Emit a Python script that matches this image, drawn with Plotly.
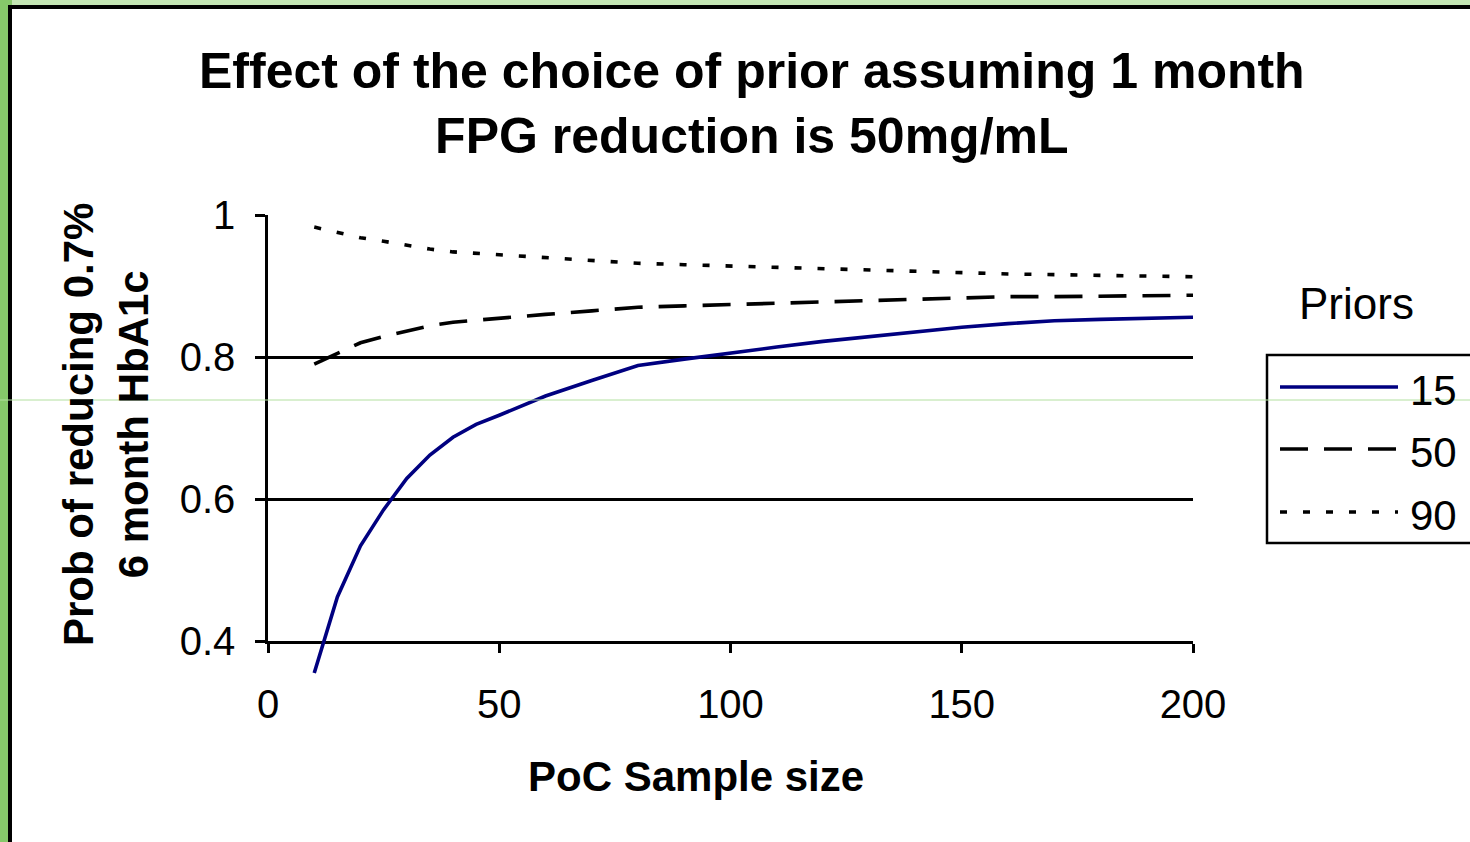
import plotly.graph_objects as go

# ---------------- data ----------------
sample_size = [10, 15, 20, 25, 30, 35, 40, 45, 50, 60, 70, 80, 90, 100,
               110, 120, 130, 140, 150, 160, 170, 180, 190, 200]
prior_15 = [0.355, 0.462, 0.534, 0.585, 0.629, 0.662, 0.687, 0.705, 0.718, 0.745,
            0.767, 0.788, 0.797, 0.806, 0.814, 0.822, 0.829, 0.835, 0.842, 0.847,
            0.851, 0.853, 0.854, 0.856]
prior_50 = [0.790, 0.805, 0.820, 0.829, 0.836, 0.844, 0.849, 0.852, 0.855, 0.860,
            0.865, 0.870, 0.872, 0.874, 0.876, 0.878, 0.880, 0.882, 0.884, 0.885,
            0.885, 0.886, 0.887, 0.887]
prior_90 = [0.983, 0.975, 0.968, 0.963, 0.957, 0.952, 0.948, 0.946, 0.944, 0.939,
            0.935, 0.932, 0.930, 0.928, 0.926, 0.924, 0.923, 0.921, 0.919, 0.917,
            0.916, 0.915, 0.914, 0.913]
series_names = ["15", "50", "90"]
x_ticks = [0, 50, 100, 150, 200]
y_ticks = [0.4, 0.6, 0.8, 1]

title_text = "Effect of the choice of prior assuming 1 month<br>FPG reduction is 50mg/mL"
x_title = "PoC Sample size"
y_title = "Prob of reducing 0.7%<br>6 month HbA1c"
legend_title = "Priors"

# ---------------- styles ----------------
FONT = "Arial, 'Liberation Sans', sans-serif"
colors = ["#000080", "black", "black"]
dashes = ["solid", "28px,16px", "7px,16px"]
widths = [3.6, 3.6, 3.6]

W_PX, H_PX = 1470, 842
L, R, T, B = 268, 1193, 215, 700   # paper box in pixels
PLOT_BOTTOM = 641                  # pixel of y = 0.4
PW, PH = R - L, B - T


def px(x):
    return (x - L) / PW


def py(y):
    return (B - y) / PH


y_lo, y_hi = 0.4, 1.0
y2_lo = y_hi - (y_hi - y_lo) * PH / (PLOT_BOTTOM - T)

fig = go.Figure()
# empty trace so that the main x/y subplot (axes + grid) exists
fig.add_trace(go.Scatter(x=[None], y=[None], xaxis="x", yaxis="y", mode="lines",
                         showlegend=False, hoverinfo="skip"))
for name, ys, c, d, w in zip(series_names, [prior_15, prior_50, prior_90], colors, dashes, widths):
    fig.add_trace(go.Scatter(x=sample_size, y=ys, name=name, mode="lines",
                             line=dict(color=c, dash=d, width=w),
                             xaxis="x2", yaxis="y2", showlegend=False))

shapes = [
    # white slide panel with black border
    dict(type="rect", xref="paper", yref="paper", x0=px(10), x1=px(1490),
         y0=py(7), y1=py(860), fillcolor="white", line=dict(color="black", width=4),
         layer="below"),
    # top lighter strip
    dict(type="rect", xref="paper", yref="paper", x0=px(12), x1=px(1480),
         y0=py(-5), y1=py(5), fillcolor="#c4e6b4", line=dict(width=0), layer="below"),
    # legend box
    dict(type="rect", xref="paper", yref="paper", x0=px(1267), x1=px(1490),
         y0=py(355), y1=py(543), fillcolor="rgba(0,0,0,0)",
         line=dict(color="black", width=2.5), layer="above"),
    # thin green artefact line
    dict(type="line", xref="paper", yref="paper", x0=px(0), x1=px(1470),
         y0=py(400), y1=py(400), line=dict(color="#b3e0a0", width=1), layer="above"),
]

annotations = [
    dict(text="<b>" + title_text + "</b>", xref="paper", yref="paper", x=px(752), y=py(41),
         xanchor="center", yanchor="top", showarrow=False,
         font=dict(family=FONT, size=50, color="black")),
    dict(text="<b>" + x_title + "</b>", xref="paper", yref="paper", x=px(696), y=py(777),
         xanchor="center", yanchor="middle", showarrow=False,
         font=dict(family=FONT, size=42, color="black")),
    dict(text="<b>" + y_title + "</b>", xref="paper", yref="paper", x=px(106), y=py(425),
         xanchor="center", yanchor="middle", showarrow=False, textangle=-90,
         font=dict(family=FONT, size=42, color="black")),
    dict(text=legend_title, xref="paper", yref="paper", x=px(1356), y=py(303),
         xanchor="center", yanchor="middle", showarrow=False,
         font=dict(family=FONT, size=44, color="black")),
]

legend_rows = [390, 452, 515]
for name, c, d, w, row in zip(series_names, colors, dashes, widths, legend_rows):
    shapes.append(dict(type="line", xref="paper", yref="paper", x0=px(1280), x1=px(1398),
                       y0=py(row - 3), y1=py(row - 3), line=dict(color=c, dash=d, width=w),
                       layer="above"))
    annotations.append(dict(text=name, xref="paper", yref="paper", x=px(1408), y=py(row),
                            xanchor="left", yanchor="middle", showarrow=False,
                            font=dict(family=FONT, size=42, color="black")))

fig.update_layout(
    width=W_PX, height=H_PX,
    margin=dict(l=L, r=W_PX - R, t=T, b=H_PX - B, pad=0),
    paper_bgcolor="#86c86a",
    plot_bgcolor="rgba(0,0,0,0)",
    showlegend=False,
    xaxis=dict(range=[0, 200], tickvals=x_ticks, ticks="outside", ticklen=9, tickwidth=2.5,
               tickcolor="black", showline=True, linecolor="black", linewidth=2.5,
               showgrid=False, zeroline=False, anchor="y", ticklabelstandoff=17,
               tickfont=dict(family=FONT, size=40, color="black")),
    yaxis=dict(range=[y_lo, y_hi], domain=[py(PLOT_BOTTOM), 1], tickvals=y_ticks,
               ticktext=["0.4", "0.6", "0.8", "1"],
               ticks="outside", ticklen=10, tickwidth=2.5, tickcolor="black",
               showline=True, linecolor="black", linewidth=2.5,
               showgrid=True, gridcolor="black", gridwidth=2.5, zeroline=False,
               anchor="x", ticklabelstandoff=12,
               tickfont=dict(family=FONT, size=40, color="black")),
    xaxis2=dict(range=[0, 200], domain=[0, 1], anchor="y2", visible=False,
                showgrid=False, zeroline=False),
    yaxis2=dict(range=[y2_lo, y_hi], domain=[0, 1], anchor="x2", visible=False,
                showgrid=False, zeroline=False),
    shapes=shapes,
    annotations=annotations,
)

fig.write_html("out.html")
